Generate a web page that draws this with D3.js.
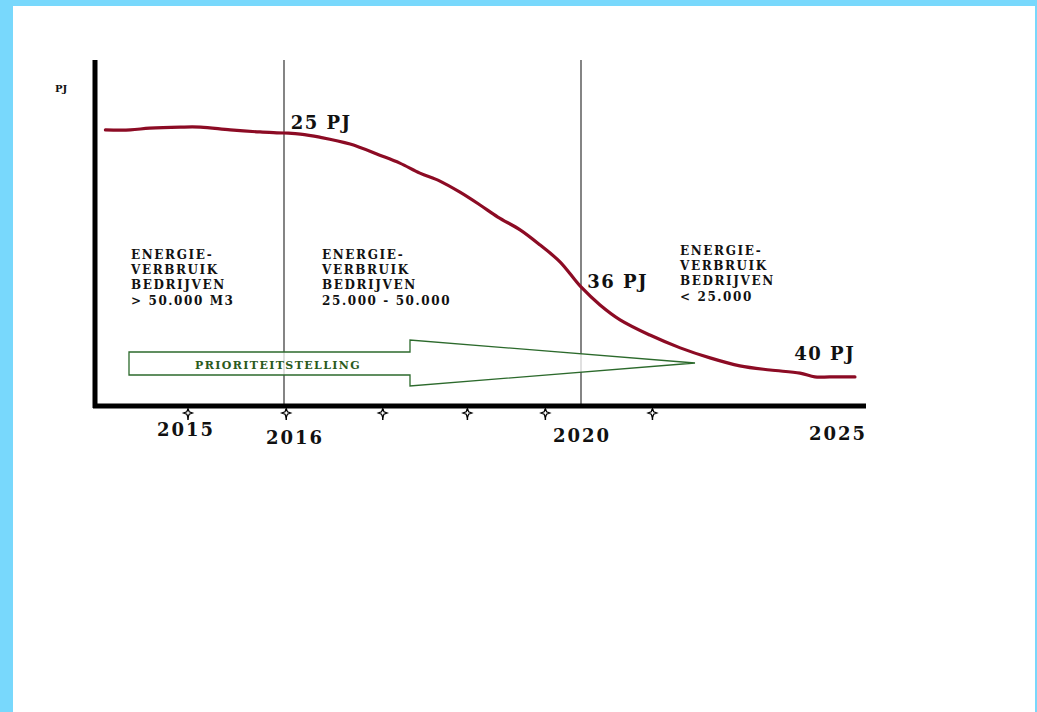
<!DOCTYPE html>
<html>
<head>
<meta charset="utf-8">
<script src="https://cdn.jsdelivr.net/npm/d3@7"></script>
<style>
  html, body { margin: 0; padding: 0; background: #78d8fc; }
  svg { display: block; }
</style>
</head>
<body>
<div id="chart"></div>
<script>
// curve (years, relative level 0-100)
const curveYears = [2014.14, 2014.4, 2014.6, 2014.92, 2015.13, 2015.44, 2015.75, 2016, 2016.22, 2016.48,
  2016.89, 2017.29, 2017.56, 2017.83, 2018.1, 2018.37, 2018.64, 2018.88, 2019.18, 2019.45,
  2019.72, 2019.92, 2020, 2020.37, 2020.76, 2021.34, 2021.93, 2022.51, 2023.09, 2023.68,
  2024.26, 2024.55, 2024.84, 2025.33]
const curveLevels = [79.8, 79.8, 80.3, 80.6, 80.6, 79.8, 79.2, 78.9, 78.6, 77.7,
  75.7, 72.5, 70.2, 67.3, 65.0, 61.8, 58.1, 54.6, 50.9, 46.5,
  41.6, 36.4, 34.4, 29.2, 24.9, 20.5, 16.8, 13.9, 11.6, 10.4,
  9.5, 8.4, 8.4, 8.4]

const yearLabels = ['2015', '2016', '2020', '2025']
const tickYears = [2015, 2016.03, 2017.33, 2018.47, 2019.52, 2021.39]
const dividerYears = [2016, 2020]
const pjLabels = ['25 PJ', '36 PJ', '40 PJ']
const blockTexts = [
  ['ENERGIE-', 'VERBRUIK', 'BEDRIJVEN', '> 50.000 M3'],
  ['ENERGIE-', 'VERBRUIK', 'BEDRIJVEN', '25.000 - 50.000'],
  ['ENERGIE-', 'VERBRUIK', 'BEDRIJVEN', '< 25.000']
]
const arrowLabel = 'PRIORITEITSTELLING'

const W = 1037, H = 712
const svg = d3.select('#chart').append('svg').attr('width', W).attr('height', H)

// white page inside the blue frame
svg.append('rect').attr('x', 13).attr('y', 6).attr('width', 1022).attr('height', H - 6).attr('fill', '#fff')

// hand drawn axis is uneven, so polylinear
const x = d3.scaleLinear().domain([2015, 2016, 2020, 2025]).range([188, 284, 581, 838])
const y = d3.scaleLinear().domain([0, 100]).range([406, 60])

const serif = '"DejaVu Serif", "Liberation Serif", serif'

// dividers
svg.selectAll('line.div')
  .data(dividerYears)
  .enter().append('line')
    .attr('class', 'div')
    .attr('x1', d => x(d)).attr('x2', d => x(d))
    .attr('y1', y(100)).attr('y2', y(0))
    .attr('stroke', '#333').attr('stroke-width', 1.2)

// arrow
const arrow = [[129, 352], [410, 352], [410, 340], [695, 363], [410, 386], [410, 375], [129, 375]]
svg.append('path')
  .attr('d', d3.line()(arrow) + 'Z')
  .attr('fill', 'rgba(255,255,255,0.75)')
  .attr('stroke', '#2c6a2c').attr('stroke-width', 1.3)

svg.append('text')
  .attr('x', 195).attr('y', 369)
  .attr('font-family', serif).attr('font-weight', 'bold').attr('font-size', 11)
  .attr('letter-spacing', 1.4)
  .attr('fill', '#2b5a1c')
  .text(arrowLabel)

// curve
svg.append('path')
  .datum(d3.zip(curveYears, curveLevels))
  .attr('d', d3.line().x(d => x(d[0])).y(d => y(d[1])).curve(d3.curveCatmullRom))
  .attr('fill', 'none')
  .attr('stroke', '#8c0b24').attr('stroke-width', 3.2)
  .attr('stroke-linecap', 'round')

// axes
svg.append('line').attr('x1', 95).attr('x2', 95).attr('y1', y(100)).attr('y2', y(0) + 2)
  .attr('stroke', '#000').attr('stroke-width', 5)
svg.append('line').attr('x1', 93).attr('x2', 866).attr('y1', y(0)).attr('y2', y(0))
  .attr('stroke', '#000').attr('stroke-width', 5)

// star ticks
const star = 'M0,-4.5 L1.2,-1.2 L4.5,0 L1.2,1.2 L0,4.5 L-1.2,1.2 L-4.5,0 L-1.2,-1.2 Z'
const ticks = svg.selectAll('g.tick')
  .data(tickYears)
  .enter().append('g')
    .attr('class', 'tick')
    .attr('transform', d => `translate(${x(d)},${y(0) + 7})`)
ticks.append('line').attr('y1', -4).attr('y2', 7).attr('stroke', '#000').attr('stroke-width', 1.5)
ticks.append('path').attr('d', star).attr('fill', '#fff').attr('stroke', '#000').attr('stroke-width', 1.2)

// year labels (hand placed offsets in the drawing)
const labelShift = {'2015': [-2, 30], '2016': [11, 38], '2020': [1, 36], '2025': [0, 34]}
svg.selectAll('text.year')
  .data(yearLabels)
  .enter().append('text')
    .attr('class', 'year')
    .attr('x', d => x(+d) + labelShift[d][0])
    .attr('y', d => y(0) + labelShift[d][1])
    .attr('text-anchor', 'middle')
    .attr('font-family', serif).attr('font-weight', 'bold').attr('font-size', 18)
    .attr('letter-spacing', 2)
    .attr('fill', '#111')
    .text(d => d)

// y label
svg.append('text')
  .attr('x', 55).attr('y', 92)
  .attr('font-family', serif).attr('font-weight', 'bold').attr('font-size', 10)
  .attr('fill', '#111')
  .text('PJ')

// PJ annotations
const pjPos = [[2016.09, 80.1, 0], [2020.12, 34.4, 0], [2024.15, 8.4, 0]]
svg.selectAll('text.pj')
  .data(pjLabels)
  .enter().append('text')
    .attr('class', 'pj')
    .attr('x', (d, i) => x(pjPos[i][0]))
    .attr('y', (d, i) => y(pjPos[i][1]) + pjPos[i][2])
    .attr('dy', (d, i) => [0, 1, -17][i])
    .attr('font-family', serif).attr('font-weight', 'bold').attr('font-size', 18)
    .attr('letter-spacing', 1.5)
    .attr('fill', '#111')
    .text(d => d)

// text blocks
const blockPos = [[131, 259], [322, 259], [680, 255]]
blockTexts.forEach((lines, i) => {
  const t = svg.append('text')
    .attr('font-family', serif).attr('font-weight', 'bold').attr('font-size', 12)
    .attr('letter-spacing', 1.6)
    .attr('fill', '#111')
  t.selectAll('tspan')
    .data(lines)
    .enter().append('tspan')
      .attr('x', blockPos[i][0])
      .attr('y', (d, j) => blockPos[i][1] + j * 15.2)
      .text(d => d)
})
</script>
</body>
</html>
